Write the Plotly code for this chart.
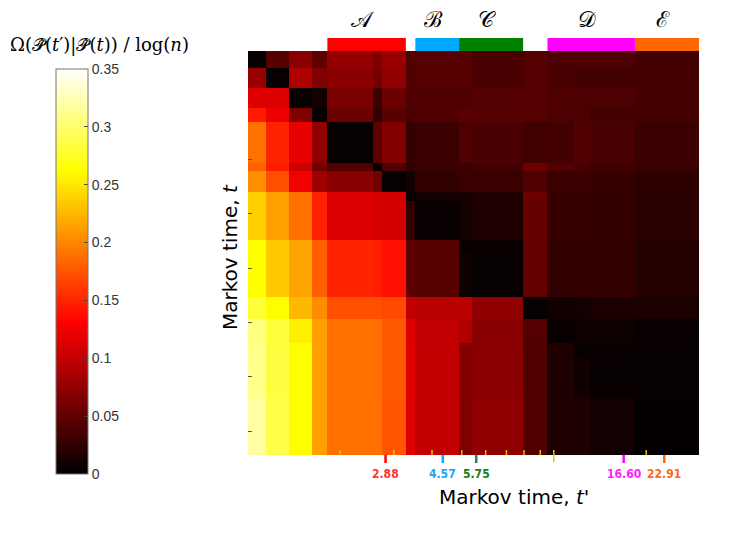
"""Omega(P(t')|P(t)) / log(n) block heatmap over Markov times."""

import plotly.graph_objects as go

# block edges along the Markov-time index (same partition for t and t')
EDGES = [0, 4.1, 9.1, 14.1, 17.6, 27.8, 29.6, 35, 37.1, 46.8, 49.7, 61, 66.4, 72.3, 75.9, 85.8, 100]

# rows = t (top to bottom), columns = t' (left to right)
OMEGA = [
    [0.003, 0.045, 0.070, 0.050, 0.075, 0.065, 0.078, 0.042, 0.045, 0.045, 0.038, 0.044, 0.039, 0.039, 0.039, 0.034],
    [0.080, 0.003, 0.090, 0.065, 0.071, 0.058, 0.074, 0.041, 0.045, 0.045, 0.038, 0.044, 0.037, 0.034, 0.034, 0.035],
    [0.115, 0.113, 0.003, 0.010, 0.063, 0.030, 0.055, 0.041, 0.041, 0.041, 0.042, 0.044, 0.040, 0.040, 0.039, 0.035],
    [0.144, 0.122, 0.066, 0.003, 0.055, 0.025, 0.046, 0.038, 0.041, 0.046, 0.045, 0.044, 0.039, 0.039, 0.035, 0.035],
    [0.190, 0.150, 0.119, 0.074, 0.003, 0.049, 0.066, 0.027, 0.031, 0.041, 0.038, 0.033, 0.034, 0.041, 0.037, 0.030],
    [0.182, 0.146, 0.105, 0.058, 0.041, 0.003, 0.041, 0.025, 0.030, 0.030, 0.034, 0.055, 0.044, 0.038, 0.033, 0.029],
    [0.205, 0.172, 0.124, 0.082, 0.070, 0.058, 0.003, 0.010, 0.025, 0.030, 0.030, 0.041, 0.030, 0.030, 0.028, 0.023],
    [0.238, 0.213, 0.189, 0.148, 0.113, 0.110, 0.108, 0.003, 0.010, 0.012, 0.016, 0.055, 0.028, 0.028, 0.026, 0.022],
    [0.238, 0.213, 0.189, 0.148, 0.113, 0.110, 0.108, 0.025, 0.004, 0.010, 0.016, 0.052, 0.028, 0.028, 0.026, 0.022],
    [0.262, 0.234, 0.215, 0.180, 0.150, 0.146, 0.139, 0.049, 0.045, 0.004, 0.005, 0.052, 0.025, 0.026, 0.026, 0.019],
    [0.262, 0.234, 0.215, 0.180, 0.150, 0.146, 0.139, 0.049, 0.045, 0.006, 0.003, 0.052, 0.025, 0.026, 0.026, 0.019],
    [0.282, 0.262, 0.226, 0.203, 0.172, 0.172, 0.170, 0.099, 0.096, 0.096, 0.074, 0.003, 0.008, 0.010, 0.014, 0.014],
    [0.306, 0.284, 0.255, 0.213, 0.189, 0.189, 0.177, 0.113, 0.099, 0.090, 0.070, 0.044, 0.003, 0.006, 0.006, 0.004],
    [0.310, 0.285, 0.262, 0.213, 0.189, 0.189, 0.177, 0.115, 0.100, 0.068, 0.071, 0.041, 0.016, 0.003, 0.004, 0.003],
    [0.310, 0.285, 0.262, 0.213, 0.189, 0.189, 0.177, 0.115, 0.100, 0.068, 0.071, 0.041, 0.016, 0.008, 0.003, 0.003],
    [0.318, 0.288, 0.262, 0.213, 0.189, 0.189, 0.175, 0.115, 0.100, 0.066, 0.074, 0.041, 0.016, 0.016, 0.010, 0.002],
]

GROUP_NAMES = ["𝒜", "ℬ", "𝒞", "𝒟", "ℰ"]
GROUP_START = [17.6, 37.1, 46.8, 66.4, 85.8]
GROUP_END = [35, 46.8, 61, 85.8, 100]
GROUP_COLORS = ["#ff0000", "#00aaff", "#008000", "#ff00ff", "#ff6600"]

MARKED_POS = [30.5, 43.2, 50.6, 83.3, 92.3]
MARKED_TIMES = ["2.88", "4.57", "5.75", "16.60", "22.91"]
MARKED_TICK_COLORS = ["#ff0000", "#00aaff", "#2e7d5a", "#ff00ff", "#ff6600"]
MARKED_TEXT_COLORS = ["#ff3333", "#1aa6ff", "#148014", "#ff1aff", "#ff661a"]

MINOR_POS = [20.4, 32.3, 40.8, 47.4, 52.7, 57.3, 61.2, 64.8, 67.8, 88.3]
Y_TICKS = [13.4, 26.8, 40.2, 53.8, 67.2, 80.6, 94.1]

CBAR_TICKS = [0, 0.05, 0.1, 0.15, 0.2, 0.25, 0.3, 0.35]
CBAR_LABELS = ["0", "0.05", "0.1", "0.15", "0.2", "0.25", "0.3", "0.35"]

HOT = [[0.0, "#000000"], [0.375, "#ff0000"], [0.75, "#ffff00"], [1.0, "#ffffff"]]

# the page body adds 8px around the figure, so the figure is 8px smaller on each side
OFF = 8
W, H = 747 - OFF, 548 - OFF
M = {"l": 248 - OFF, "r": 48, "t": 51 - OFF, "b": 93, "autoexpand": False}
PW = W - M["l"] - M["r"]
PH = H - M["t"] - M["b"]


def px_x(px):
    """screen pixel -> paper x"""
    return (px - OFF - M["l"]) / PW


def px_y(py):
    """screen pixel -> paper y"""
    return (H - M["b"] - (py - OFF)) / PH


fig = go.Figure(
    go.Heatmap(
        x=EDGES,
        y=EDGES,
        z=OMEGA,
        zmin=0,
        zmax=0.35,
        colorscale=HOT,
        colorbar={
            "x": px_x(56),
            "xanchor": "left",
            "y": px_y(474),
            "yanchor": "bottom",
            "lenmode": "pixels",
            "len": 405,
            "thickness": 32,
            "xpad": 0,
            "ypad": 0,
            "outlinewidth": 1,
            "outlinecolor": "#777",
            "tickvals": CBAR_TICKS,
            "ticktext": CBAR_LABELS,
            "ticks": "inside",
            "ticklen": 4,
            "tickcolor": "#444",
            "tickfont": {"family": "Liberation Sans", "size": 14, "color": "#333"},
        },
    )
)

shapes = []
annotations = []
for name, x0, x1, col in zip(GROUP_NAMES, GROUP_START, GROUP_END, GROUP_COLORS):
    shapes.append({"type": "rect", "xref": "x", "yref": "paper", "x0": x0, "x1": x1,
                   "y0": 1.0, "y1": px_y(38), "fillcolor": col, "line": {"width": 0}})
    annotations.append({"text": name, "xref": "x", "yref": "paper", "x": (x0 + x1) / 2,
                        "y": px_y(20), "xanchor": "center", "yanchor": "middle", "showarrow": False,
                        "xshift": -4,
                        "font": {"family": "DejaVu Serif", "size": 22, "color": "#000"}})

for pos, lab, tcol, lcol in zip(MARKED_POS, MARKED_TIMES, MARKED_TICK_COLORS, MARKED_TEXT_COLORS):
    shapes.append({"type": "line", "xref": "x", "yref": "paper", "x0": pos, "x1": pos,
                   "y0": 0, "y1": px_y(463), "line": {"color": tcol, "width": 2.5}})
    annotations.append({"text": "<b>" + lab + "</b>", "xref": "x", "yref": "paper", "x": pos,
                        "y": px_y(474), "xanchor": "center", "yanchor": "middle", "showarrow": False,
                        "font": {"family": "DejaVu Sans Condensed", "size": 12, "color": lcol}})

for i, pos in enumerate(MINOR_POS):
    low = px_y(462) if i == 8 else 0
    shapes.append({"type": "line", "xref": "x", "yref": "paper", "x0": pos, "x1": pos,
                   "y0": low, "y1": px_y(450), "line": {"color": "#e0c000", "width": 1.5}})

annotations += [
    {"text": "Markov time, <i>t</i>'", "xref": "paper", "yref": "paper", "x": px_x(514),
     "y": px_y(497), "xanchor": "center", "yanchor": "middle", "showarrow": False,
     "font": {"family": "DejaVu Sans", "size": 20, "color": "#000"}},
    {"text": "Markov time, <i>t</i>", "xref": "paper", "yref": "paper", "x": px_x(230),
     "y": px_y(257), "xanchor": "center", "yanchor": "middle", "textangle": -90, "showarrow": False,
     "font": {"family": "DejaVu Sans", "size": 20, "color": "#000"}},
    {"text": "Ω(𝒫̂(<i>t</i>′)|𝒫̂(<i>t</i>)) / log(<i>n</i>)", "xref": "paper", "yref": "paper",
     "x": px_x(99), "y": px_y(45), "xanchor": "center", "yanchor": "middle", "showarrow": False,
     "font": {"family": "DejaVu Serif", "size": 18, "color": "#000"}},
]

fig.update_layout(
    width=W,
    height=H,
    margin=M,
    paper_bgcolor="white",
    plot_bgcolor="white",
    shapes=shapes,
    annotations=annotations,
    xaxis={"range": [0, 100], "showgrid": False, "zeroline": False, "showticklabels": False,
           "ticks": "", "showline": False},
    yaxis={"range": [100, 0], "showgrid": False, "zeroline": False, "showticklabels": False,
           "tickvals": Y_TICKS, "ticks": "inside", "ticklen": 4, "tickcolor": "#555",
           "showline": False},
)

fig.write_html("out.html")
